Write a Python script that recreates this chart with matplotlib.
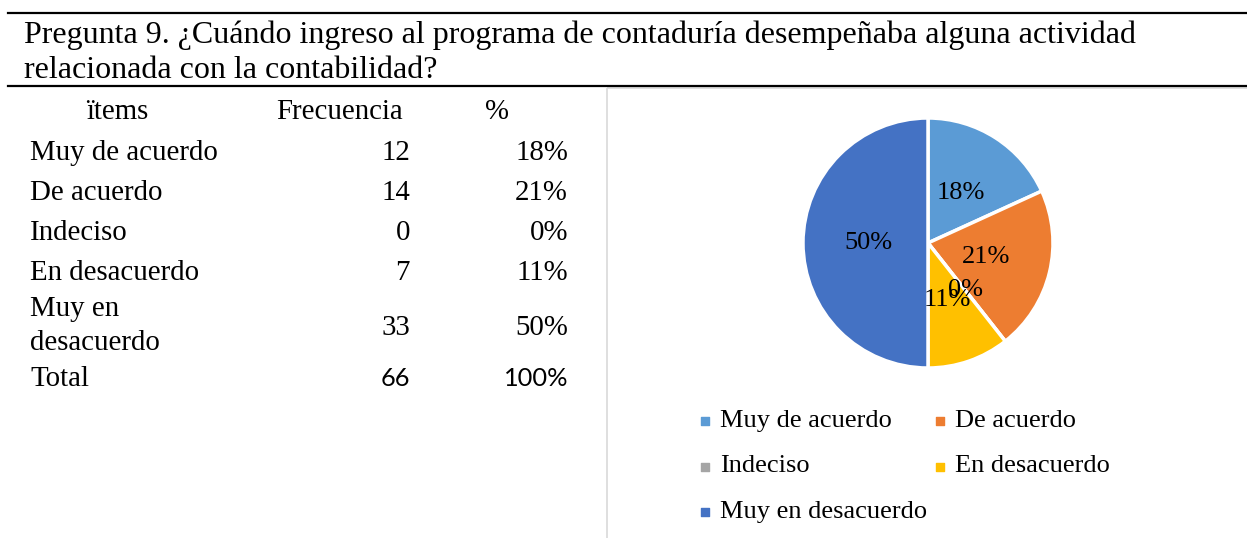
import numpy as np
import matplotlib.pyplot as plt
from matplotlib.patches import Rectangle

items = ["Muy de acuerdo", "De acuerdo", "Indeciso", "En desacuerdo", "Muy en\ndesacuerdo"]
legend_names = ["Muy de acuerdo", "De acuerdo", "Indeciso", "En desacuerdo", "Muy en desacuerdo"]
freq = [12, 14, 0, 7, 33]
pct = ["18%", "21%", "0%", "11%", "50%"]
total_freq = 66
total_pct = "100%"
colors = ["#5B9BD5", "#ED7D31", "#A5A5A5", "#FFC000", "#4472C4"]

title = ["Pregunta 9. ¿Cuándo ingreso al programa de contaduría desempeñaba alguna actividad",
         "relacionada con la contabilidad?"]

W, H = 1247, 538
serif = "Liberation Serif"

fig = plt.figure(figsize=(W / 100, H / 100), dpi=100)
bg = fig.add_axes([0, 0, 1, 1])
bg.set_xlim(0, W)
bg.set_ylim(H, 0)
bg.axis("off")

# rules
bg.plot([8, W], [13, 13], color="black", lw=1.6)
bg.plot([8, W], [86, 86], color="black", lw=1.6)
bg.add_patch(Rectangle((607, 88), W, H, fill=False, edgecolor="#D9D9D9", lw=1.2))

bg.text(24, 43, title[0], fontsize=23, family=serif, va="baseline")
bg.text(24, 78, title[1], fontsize=23, family=serif, va="baseline")

# table
fs = 20.8
row_y = [160, 200, 240, 280, 335]
bg.text(117, 119, "ïtems", fontsize=fs, family=serif, ha="center", va="baseline")
bg.text(339, 119, "Frecuencia", fontsize=fs, family=serif, ha="center", va="baseline")
bg.text(497, 119, "%", fontsize=fs, family=serif, ha="center", va="baseline")
for i in range(len(items)):
    lines = items[i].split("\n")
    if len(lines) == 2:
        bg.text(30, row_y[i] - 19, lines[0], fontsize=fs, family=serif, va="baseline")
        bg.text(30, row_y[i] + 15, lines[1], fontsize=fs, family=serif, va="baseline")
    else:
        bg.text(30, row_y[i], lines[0], fontsize=fs, family=serif, va="baseline")
    bg.text(410, row_y[i], str(freq[i]), fontsize=fs, family=serif, ha="right", va="baseline")
    bg.text(568, row_y[i], pct[i], fontsize=fs, family=serif, ha="right", va="baseline")
bg.text(30, 386, "Total", fontsize=fs, family=serif, va="baseline")
bg.text(410, 386, str(total_freq), fontsize=18.3, family="Lato", ha="right", va="baseline")
bg.text(568, 386, total_pct, fontsize=18.3, family="Lato", ha="right", va="baseline")

# pie
cx, cy, r = 928, 243, 125
pax = fig.add_axes([(cx - r) / W, (H - cy - r) / H, 2 * r / W, 2 * r / H])
wedges, texts = pax.pie(freq, colors=colors, startangle=90, counterclock=False,
                        wedgeprops=dict(edgecolor="white", linewidth=2.5))
for w, p in zip(wedges, pct):
    ang = np.deg2rad((w.theta1 + w.theta2) / 2)
    pax.text(0.48 * np.cos(ang), 0.48 * np.sin(ang), p, ha="center", va="center",
             fontsize=19, family=serif)
pax.set_xlim(-1, 1)
pax.set_ylim(-1, 1)

# legend
lfs = 19
for i, name in enumerate(legend_names):
    x = 705 + (i % 2) * 235
    y = 421 + (i // 2) * 45.5
    bg.scatter([x], [y], marker="s", s=40, color=colors[i], clip_on=False)
    bg.text(x + 15, y, name, fontsize=lfs, family=serif, va="center")

fig.savefig("out.png", dpi=100)
